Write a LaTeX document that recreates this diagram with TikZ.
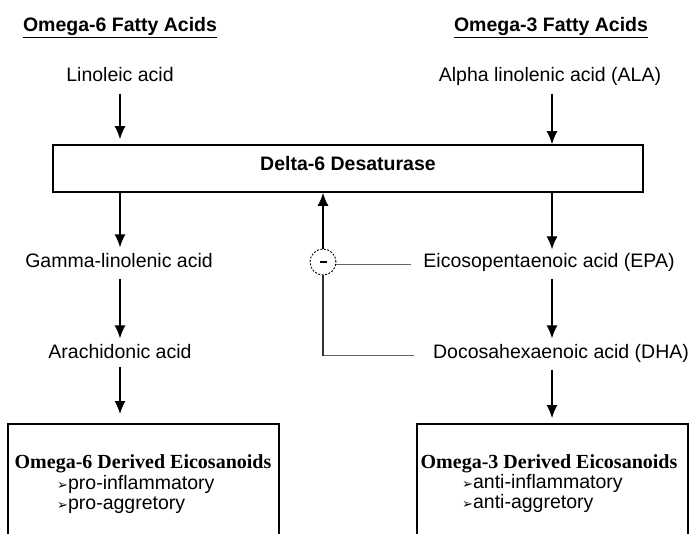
\documentclass[tikz,border=0pt]{standalone}
\usepackage{fontspec}
\setmainfont{Liberation Sans}
\newfontfamily\boxserif{Liberation Serif}
\newfontfamily\dingfont{DejaVu Sans}
\usetikzlibrary{arrows.meta, positioning}

\newcommand{\pointer}{{\dingfont\fontsize{13}{13}\selectfont ➢}}

\begin{document}
\begin{tikzpicture}[x=1pt, y=-1pt, >={Latex[length=13pt,width=11pt]}, font=\fontsize{19.5}{23}\selectfont,
    acid/.style={anchor=base, inner sep=2pt, text height=0.75em, text depth=0.25em},
    heading/.style={anchor=base, inner sep=2pt, font=\fontsize{19.5}{23}\selectfont\bfseries},
    enzyme/.style={draw, rectangle, line width=1.8pt, minimum width=590pt, minimum height=47pt, text height=0.75em, text depth=0.25em, font=\fontsize{19.5}{23}\selectfont\bfseries},
    result/.style={draw, rectangle, line width=1.8pt, minimum width=271pt, minimum height=130pt, anchor=north},
    resulttitle/.style={anchor=base, inner sep=1pt, font=\fontsize{20}{24}\selectfont\boxserif\bfseries},
    effect/.style={anchor=base west, inner sep=0pt},
    inhibit/.style={draw, circle, dash pattern=on 2pt off 1.5pt, line width=0.9pt, minimum size=26pt, inner sep=0pt},
    flow/.style={->, line width=1.1pt, shorten <=7pt, shorten >=10pt},
    feedback/.style={line width=1.1pt, gray!80!black}]

\useasboundingbox (0,0) rectangle (700,534);

\node[heading] (omega6) at (120,32) {\underline{Omega-6 Fatty Acids}};
\node[heading] (omega3) at (551,32) {\underline{Omega-3 Fatty Acids}};

\node[acid] (la) at (120,82) {Linoleic acid};
\node[acid] (ala) at (550,82) {Alpha linolenic acid (ALA)};
\node[enzyme] (d6d) at (348,168.5) {Delta-6 Desaturase};

\node[acid] (gla) at (119,267) {Gamma-linolenic acid};
\node[acid] (aa) at (120,358) {Arachidonic acid};
\node[acid] (epa) at (549,267) {Eicosopentaenoic acid (EPA)};
\node[acid] (dha) at (561,358) {Docosahexaenoic acid (DHA)};

\node[inhibit] (inh) at (323,262) {\rule{7pt}{2.2pt}};

\node[result] (eico6) at (143.5,423) {};
\node[resulttitle] (eico6title) at (143,468) {Omega-6 Derived Eicosanoids};
\node[effect] (pro1) at (57,489) {\pointer pro-inflammatory};
\node[effect] (pro2) at (57,509) {\pointer pro-aggretory};

\node[result] (eico3) at (552.5,423) {};
\node[resulttitle] (eico3title) at (549,468) {Omega-3 Derived Eicosanoids};
\node[effect] (anti1) at (462,488) {\pointer anti-inflammatory};
\node[effect] (anti2) at (462,508) {\pointer anti-aggretory};

\coordinate (left) at (120,0);
\coordinate (right) at (552,0);

\draw[flow, shorten >=5pt] (la.south -| left) -- (d6d.north -| left);
\draw[flow, shorten >=0pt] (ala.south -| right) -- (d6d.north -| right);
\draw[flow, shorten <=0pt] (d6d.south -| left) -- (gla.north -| left);
\draw[flow] (gla.south -| left) -- (aa.north -| left);
\draw[flow, shorten <=4pt, shorten >=9pt] (aa.south -| left) -- (eico6.north -| left);
\draw[flow, shorten <=0pt, shorten >=8pt] (d6d.south -| right) -- (epa.north -| right);
\draw[flow] (epa.south -| right) -- (dha.north -| right);
\draw[flow, shorten >=5pt] (dha.south -| right) -- (eico3.north -| right);

\draw[->, line width=1.1pt] (inh) -- (inh |- d6d.south);
\draw[feedback, shorten <=10pt] (epa.west) -- (epa.west -| inh.east);
\draw[feedback, shorten <=17pt] (dha.west) -- (inh |- dha.west);
\draw[line width=1.1pt, black!80] (inh |- dha.west) -- (inh);
\end{tikzpicture}
\end{document}
